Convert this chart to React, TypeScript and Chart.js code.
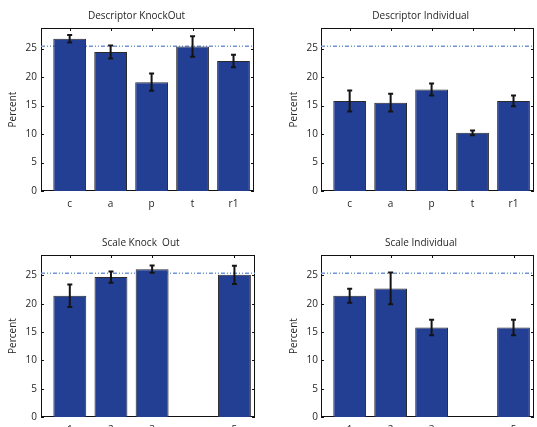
import React, { useEffect, useRef } from 'react';
import { Chart, registerables } from 'chart.js';

Chart.register(...registerables);

// ---------- data ----------
const descriptorLabels = ['c', 'a', 'p', 't', 'r1'];
const descriptorPositions = [1, 2, 3, 4, 5];
const descriptorKnockOut = [26.7, 24.4, 19.1, 25.35, 22.8];
const descriptorKnockOutErr = [0.65, 1.15, 1.5, 1.8, 1.1];
const descriptorIndividual = [15.8, 15.5, 17.8, 10.2, 15.8];
const descriptorIndividualErr = [1.85, 1.55, 1.05, 0.4, 0.95];

const scaleLabels = ['1', '2', '3', '5'];
const scalePositions = [1, 2, 3, 5];
const scaleKnockOut = [21.4, 24.7, 26.1, 25.1];
const scaleKnockOutErr = [2.0, 1.0, 0.65, 1.6];
const scaleIndividual = [21.4, 22.7, 15.8, 15.8];
const scaleIndividualErr = [1.25, 2.8, 1.35, 1.35];

const chanceLevel = 25.4;
const yTicks = [0, 5, 10, 15, 20, 25];
const yMax = 28.6;
const xMin = 0.3;
const xMax = 5.5;

const FONT = '"Open Sans", "DejaVu Sans", sans-serif';
const TEXT = '#262626';
const BAR = '#223f93';

type Panel = {
  title: string;
  labels: string[];
  positions: number[];
  values: number[];
  errors: number[];
  box: { left: number; top: number; width: number; height: number };
  area: { l: number; t: number; r: number; b: number };
  titleX: number;
  yTitlePad: number;
  yTickPad: number;
};

const panels: Panel[] = [
  {
    title: 'Descriptor KnockOut', labels: descriptorLabels, positions: descriptorPositions,
    values: descriptorKnockOut, errors: descriptorKnockOutErr,
    box: { left: 0, top: 0, width: 268, height: 213 },
    area: { l: 41, t: 28, r: 254, b: 191 }, titleX: 136.5, yTitlePad: 7, yTickPad: 4,
  },
  {
    title: 'Descriptor Individual', labels: descriptorLabels, positions: descriptorPositions,
    values: descriptorIndividual, errors: descriptorIndividualErr,
    box: { left: 268, top: 0, width: 269, height: 213 },
    area: { l: 321, t: 28, r: 534, b: 191 }, titleX: 420.7, yTitlePad: 20, yTickPad: 3,
  },
  {
    title: 'Scale Knock  Out', labels: scaleLabels, positions: scalePositions,
    values: scaleKnockOut, errors: scaleKnockOutErr,
    box: { left: 0, top: 213, width: 268, height: 240 },
    area: { l: 41, t: 255, r: 255, b: 417 }, titleX: 140.8, yTitlePad: 7, yTickPad: 4,
  },
  {
    title: 'Scale Individual', labels: scaleLabels, positions: scalePositions,
    values: scaleIndividual, errors: scaleIndividualErr,
    box: { left: 268, top: 213, width: 269, height: 240 },
    area: { l: 321, t: 255, r: 534, b: 417 }, titleX: 421, yTitlePad: 20, yTickPad: 3,
  },
];

function PanelChart({ p }: { p: Panel }) {
  const ref = useRef<HTMLCanvasElement | null>(null);

  useEffect(() => {
    if (!ref.current) return;
    const decor = {
      id: 'panelDecor',
      beforeDatasetsDraw(chart: any) {
        const { ctx, chartArea: a, scales } = chart;
        const x = scales.x, y = scales.y;
        ctx.save();
        ctx.strokeStyle = '#111';
        ctx.lineWidth = 1;
        ctx.strokeRect(a.left + 0.5, a.top + 0.5, a.right - a.left - 1, a.bottom - a.top - 1);
        ctx.beginPath();
        p.positions.forEach((v) => {
          const px = Math.round(x.getPixelForValue(v)) + 0.5;
          ctx.moveTo(px, a.top); ctx.lineTo(px, a.top + 3);
          ctx.moveTo(px, a.bottom); ctx.lineTo(px, a.bottom - 3);
        });
        yTicks.forEach((v) => {
          const py = Math.round(y.getPixelForValue(v)) + 0.5;
          ctx.moveTo(a.left, py); ctx.lineTo(a.left + 3, py);
          ctx.moveTo(a.right, py); ctx.lineTo(a.right - 3, py);
        });
        ctx.stroke();
        ctx.restore();
      },
      afterDatasetsDraw(chart: any) {
        const { ctx, scales } = chart;
        const x = scales.x, y = scales.y;
        ctx.save();
        ctx.strokeStyle = '#141414';
        ctx.lineWidth = 2;
        p.positions.forEach((v, i) => {
          const px = x.getPixelForValue(v);
          const hi = y.getPixelForValue(p.values[i] + p.errors[i]);
          const lo = y.getPixelForValue(p.values[i] - p.errors[i]);
          ctx.beginPath();
          ctx.moveTo(px, hi); ctx.lineTo(px, lo);
          ctx.moveTo(px - 2.5, hi); ctx.lineTo(px + 2.5, hi);
          ctx.moveTo(px - 2.5, lo); ctx.lineTo(px + 2.5, lo);
          ctx.stroke();
        });
        ctx.restore();
      },
      afterDraw(chart: any) {
        const { ctx, chartArea: a } = chart;
        ctx.save();
        ctx.font = `10px ${FONT}`;
        ctx.fillStyle = TEXT;
        ctx.textAlign = 'center';
        ctx.textBaseline = 'middle';
        ctx.fillText(p.title, p.titleX - p.box.left, a.top - 12);
        ctx.restore();
      },
    };

    const chart = new Chart(ref.current, {
      type: 'bar',
      data: {
        datasets: [
          {
            type: 'bar',
            data: p.positions.map((xv, i) => ({ x: xv, y: p.values[i] })),
            backgroundColor: BAR,
            borderColor: '#2a2a2a',
            borderWidth: 1,
            categoryPercentage: 1,
            barPercentage: 0.8,
            order: 1,
          } as any,
          {
            type: 'line',
            data: [{ x: xMin, y: chanceLevel }, { x: xMax, y: chanceLevel }],
            borderColor: '#7196d6',
            borderWidth: 1.5,
            borderDash: [4, 2, 1, 2, 1, 2],
            pointRadius: 0,
            order: 2,
          } as any,
        ],
      },
      options: {
        animation: false,
        responsive: false,
        maintainAspectRatio: false,
        events: [],
        layout: {
          padding: {
            left: 0,
            top: p.area.t - p.box.top,
            right: p.box.left + p.box.width - p.area.r,
            bottom: 0,
          },
        },
        plugins: { legend: { display: false }, tooltip: { enabled: false }, title: { display: false } },
        scales: {
          x: {
            type: 'linear',
            min: xMin,
            max: xMax,
            offset: false,
            grid: { display: false, drawTicks: false },
            border: { display: false },
            ticks: {
              autoSkip: false,
              maxRotation: 0,
              padding: 7,
              color: TEXT,
              font: { family: FONT, size: 10 },
              callback: (value: any) => {
                const i = p.positions.indexOf(Number(value));
                return i >= 0 ? p.labels[i] : '';
              },
            },
            afterBuildTicks: (scale: any) => {
              scale.ticks = p.positions.map((v) => ({ value: v }));
            },
            afterFit: (scale: any) => {
              scale.height = p.box.top + p.box.height - p.area.b;
            },
          },
          y: {
            type: 'linear',
            min: 0,
            max: yMax,
            grid: { display: false, drawTicks: false },
            border: { display: false },
            ticks: {
              padding: p.yTickPad,
              color: TEXT,
              font: { family: FONT, size: 10 },
              callback: (value: any) => String(value),
            },
            afterBuildTicks: (scale: any) => {
              scale.ticks = yTicks.map((v) => ({ value: v }));
            },
            afterFit: (scale: any) => {
              scale.width = p.area.l - p.box.left;
            },
            title: {
              display: true,
              text: 'Percent',
              color: TEXT,
              font: { family: FONT, size: 10 },
              padding: { top: p.yTitlePad, bottom: 0 },
            },
          },
        },
      } as any,
      plugins: [decor],
    });
    return () => chart.destroy();
  }, [p]);

  return (
    <canvas
      ref={ref}
      width={p.box.width}
      height={p.box.height}
      style={{ position: 'absolute', left: p.box.left, top: p.box.top, width: p.box.width, height: p.box.height }}
    />
  );
}

export default function App() {
  return (
    <div
      style={{
        position: 'absolute', left: 0, top: 0, width: 537, height: 427,
        overflow: 'hidden', background: '#ffffff',
      }}
    >
      {panels.map((p) => (
        <PanelChart key={p.title} p={p} />
      ))}
    </div>
  );
}
